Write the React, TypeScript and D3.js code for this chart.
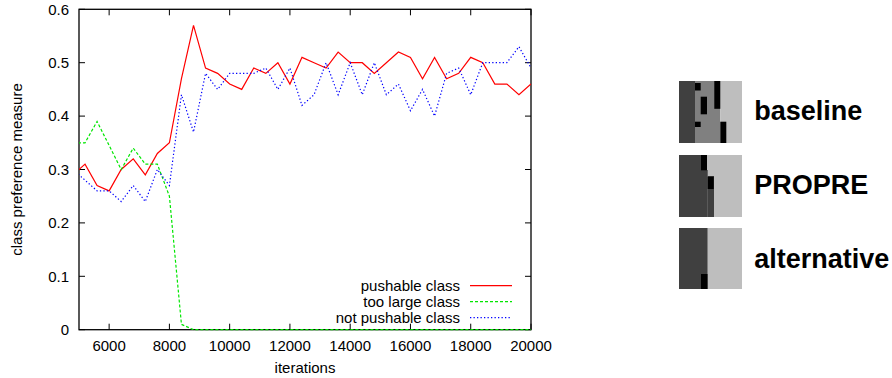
import * as React from 'react';
import * as d3 from 'd3';

// sampled every 400 iterations (the first point sits just left of the visible range)
const iterations = [
  4800, 5200, 5600, 6000, 6400, 6800, 7200, 7600, 8000, 8400,
  8800, 9200, 9600, 10000, 10400, 10800, 11200, 11600, 12000, 12400,
  12800, 13200, 13600, 14000, 14400, 14800, 15200, 15600, 16000, 16400,
  16800, 17200, 17600, 18000, 18400, 18800, 19200, 19600, 20000,
];

const pushable = [
  0.29, 0.31, 0.27, 0.26, 0.30, 0.32, 0.29, 0.33, 0.35, 0.47,
  0.57, 0.49, 0.48, 0.46, 0.45, 0.49, 0.48, 0.50, 0.46, 0.51,
  0.50, 0.49, 0.52, 0.50, 0.50, 0.48, 0.50, 0.52, 0.51, 0.47,
  0.51, 0.47, 0.48, 0.51, 0.50, 0.46, 0.46, 0.44, 0.46,
];

const tooLarge = [
  0.35, 0.35, 0.39, 0.345, 0.30, 0.34, 0.31, 0.31, 0.25, 0.01,
  0, 0, 0, 0, 0, 0, 0, 0, 0, 0,
  0, 0, 0, 0, 0, 0, 0, 0, 0, 0,
  0, 0, 0, 0, 0, 0, 0, 0, 0,
];

const notPushable = [
  0.30, 0.28, 0.26, 0.26, 0.24, 0.27, 0.24, 0.30, 0.27, 0.44,
  0.37, 0.48, 0.45, 0.48, 0.48, 0.48, 0.49, 0.45, 0.49, 0.42,
  0.44, 0.50, 0.44, 0.50, 0.44, 0.50, 0.44, 0.46, 0.41, 0.45,
  0.40, 0.48, 0.49, 0.44, 0.50, 0.50, 0.50, 0.53, 0.49,
];

const xTicks = [6000, 8000, 10000, 12000, 14000, 16000, 18000, 20000];
const yTicks = [0, 0.1, 0.2, 0.3, 0.4, 0.5, 0.6];

const series = [
  { name: 'pushable class', values: pushable, color: '#ff0000', dash: 'none' },
  { name: 'too large class', values: tooLarge, color: '#00e600', dash: '3,2' },
  { name: 'not pushable class', values: notPushable, color: '#0000ff', dash: '1.3,2.2' },
];

// small grid pictures on the right: [x, y, w, h, fill] in picture pixels
const DARK = '#404040', MID = '#808080', LIGHT = '#bebebe', BLACK = '#000000';
const thumbs = [
  {
    label: 'baseline',
    cells: [
      [0, 0, 16, 62, DARK], [16, 0, 25.3, 62, MID], [41.3, 0, 21.7, 62, LIGHT],
      [16, 2, 5.7, 7.5, BLACK], [21.7, 15.7, 6.3, 17.6, BLACK], [16, 40.7, 5.7, 5.3, BLACK],
      [35.3, 0, 6, 27.8, BLACK], [41.3, 40.7, 6, 21.3, BLACK],
    ],
  },
  {
    label: 'PROPRE',
    cells: [
      [0, 0, 63, 62, LIGHT], [0, 0, 22, 62, DARK], [22, 15, 6.7, 47, DARK], [28.7, 21, 6.3, 41, DARK],
      [22, 0, 6, 15.3, BLACK], [28.7, 21.7, 6, 12.3, BLACK],
    ],
  },
  {
    label: 'alternative',
    cells: [
      [0, 0, 63, 61, LIGHT], [0, 0, 28.5, 61, DARK], [22, 46, 6.5, 15, BLACK],
    ],
  },
];

const FONT = '"Liberation Sans", Arial, Helvetica, sans-serif';

const App: React.FC = () => {
  const W = 892, H = 378;
  const plot = { left: 79, right: 531, top: 9.3, bottom: 329.7 };

  const x = d3.scaleLinear().domain([5000, 20000]).range([plot.left, plot.right]);
  const y = d3.scaleLinear().domain([0, 0.6]).range([plot.bottom, plot.top]);

  const line = d3.line<number>()
    .x((_d, i) => x(iterations[i]))
    .y(d => y(d));

  const tickLen = 6;
  const fmtY = (d: number) => (d === 0 ? '0' : d.toFixed(1));

  const thumbTop = [81, 155, 228];
  const thumbLeft = 679;
  const labelBase = [120, 194.3, 268.3];

  return (
    <svg
      width={W}
      height={H}
      style={{ position: 'absolute', left: 0, top: 0, background: '#fff' }}
      fontFamily={FONT}
    >
      <defs>
        <clipPath id="plot-clip">
          <rect x={plot.left} y={plot.top - 2} width={plot.right - plot.left} height={plot.bottom - plot.top + 4} />
        </clipPath>
      </defs>

      {/* ticks, mirrored on all four sides, pointing inward */}
      <g stroke="#000" strokeWidth={1}>
        {xTicks.map(t => (
          <g key={'xt' + t}>
            <line x1={x(t)} x2={x(t)} y1={plot.bottom} y2={plot.bottom - tickLen} />
            <line x1={x(t)} x2={x(t)} y1={plot.top} y2={plot.top + tickLen} />
          </g>
        ))}
        {yTicks.map(t => (
          <g key={'yt' + t}>
            <line x1={plot.left} x2={plot.left + tickLen} y1={y(t)} y2={y(t)} />
            <line x1={plot.right} x2={plot.right - tickLen} y1={y(t)} y2={y(t)} />
          </g>
        ))}
      </g>

      <rect
        x={plot.left}
        y={plot.top}
        width={plot.right - plot.left}
        height={plot.bottom - plot.top}
        fill="none"
        stroke="#000"
        strokeWidth={1.3}
      />

      {/* tick labels */}
      <g fontSize={15} fill="#000">
        {xTicks.map(t => (
          <text key={'xl' + t} x={x(t)} y={plot.bottom + 21} textAnchor="middle">{t}</text>
        ))}
        {yTicks.map(t => (
          <text key={'yl' + t} x={plot.left - 10} y={y(t) + 5.3} textAnchor="end">{fmtY(t)}</text>
        ))}
      </g>

      <text x={(plot.left + plot.right) / 2} y={373} fontSize={15} textAnchor="middle">iterations</text>
      <text
        transform={`translate(22,${(plot.top + plot.bottom) / 2}) rotate(-90)`}
        fontSize={15}
        textAnchor="middle"
      >
        class preference measure
      </text>

      {/* data lines */}
      <g clipPath="url(#plot-clip)" fill="none">
        {series.map(s => (
          <path
            key={s.name}
            d={line(s.values) ?? ''}
            stroke={s.color}
            strokeWidth={1.2}
            strokeDasharray={s.dash}
          />
        ))}
      </g>

      {/* legend */}
      <g fontSize={15}>
        {series.map((s, i) => {
          const cy = 285.7 + i * 16;
          return (
            <g key={'lg' + s.name}>
              <text x={460} y={cy + 5.2} textAnchor="end">{s.name}</text>
              <line x1={470} x2={512} y1={cy} y2={cy} stroke={s.color} strokeWidth={1.2} strokeDasharray={s.dash} />
            </g>
          );
        })}
      </g>

      {/* pictures and their captions */}
      {thumbs.map((t, i) => (
        <g key={t.label}>
          <g transform={`translate(${thumbLeft},${thumbTop[i]})`}>
            {t.cells.map((c, j) => (
              <rect key={j} x={c[0] as number} y={c[1] as number} width={c[2] as number} height={c[3] as number} fill={c[4] as string} />
            ))}
          </g>
          <text x={754.3} y={labelBase[i]} fontSize={27} fontWeight="bold" fill="#000">{t.label}</text>
        </g>
      ))}
    </svg>
  );
};

export default App;
